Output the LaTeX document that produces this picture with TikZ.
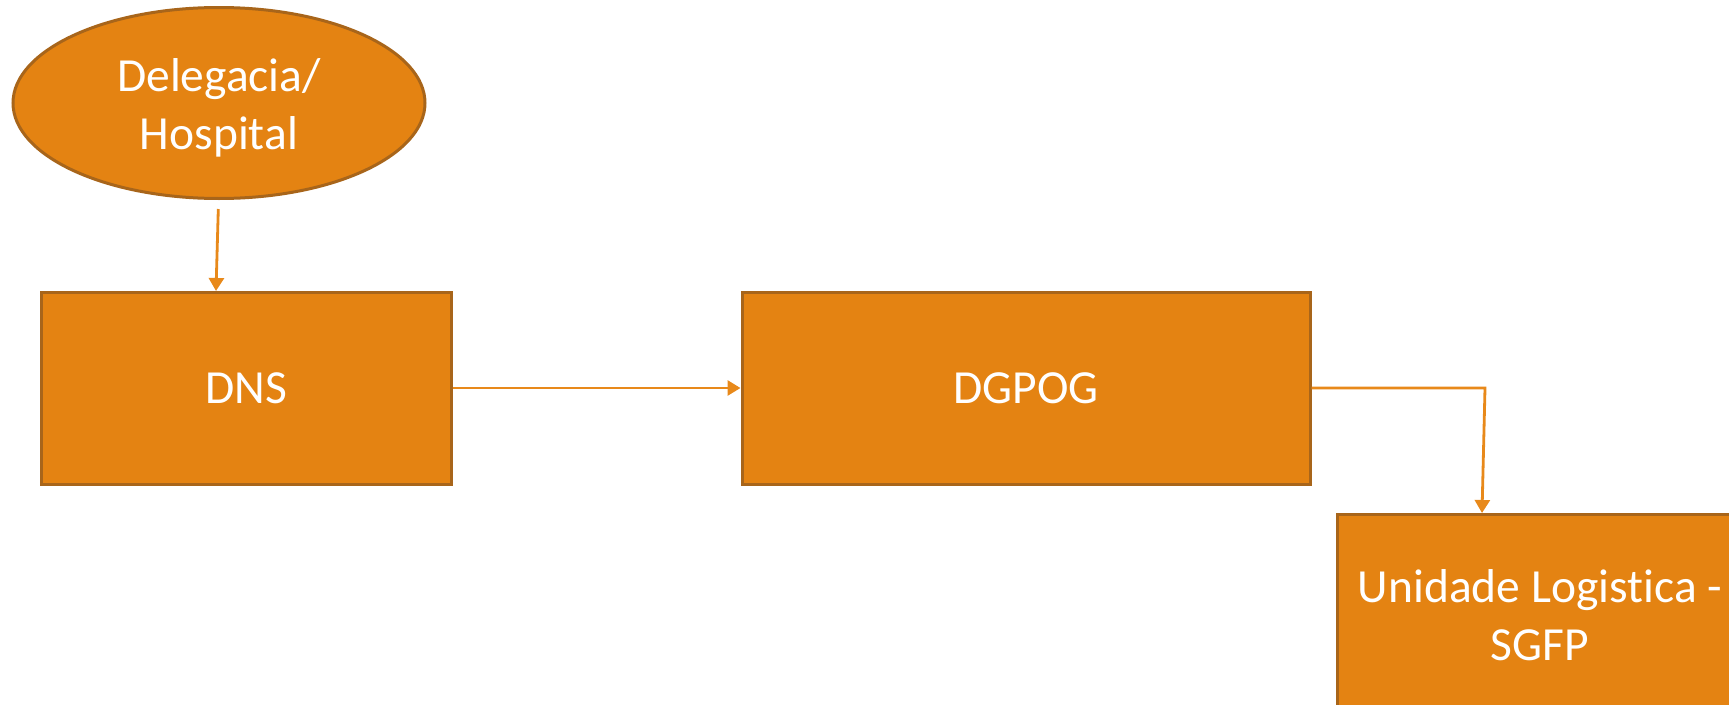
\documentclass[tikz,border=0pt]{standalone}
\usepackage{fontspec}
\setmainfont{Carlito}[Ligatures=NoCommon]
\usetikzlibrary{arrows.meta,shapes.geometric}
\definecolor{boxfill}{HTML}{E48312}
\definecolor{boxline}{HTML}{A8651A}
\definecolor{conn}{HTML}{E8891A}
\tikzset{
  txt/.style={text=white, align=center, inner sep=0pt, font=\fontsize{47.5}{58}\selectfont},
  box/.style={draw=boxline, line width=3pt, fill=boxfill, txt},
  oval/.style={box, ellipse},
  link/.style={draw=conn, line width=2.8pt, -{Triangle[width=15pt,length=13pt]}}
}
\begin{document}
\begin{tikzpicture}[x=1pt,y=-1pt]
\useasboundingbox (0,0) rectangle (1729,704);
\clip (0,0) rectangle (1729,704);
\node[oval, minimum width=412pt, minimum height=191pt,
  label={[txt, yshift=-5pt]center:Delegacia/\\Hospital}] (del) at (219,103) {};
\node[box, minimum width=410pt, minimum height=192pt] (dns) at (246,388) {DNS};
\node[box, minimum width=568pt, minimum height=192pt] (dgpog) at (1026,388) {DGPOG};
\node[box, minimum width=406pt, minimum height=192pt,
  label={[txt, yshift=-5pt]center:Unidade Logistica -\\SGFP}] (uls) at (1540,610) {};
\coordinate (a1) at (218.3,209);
\coordinate (a2) at (216,291);
\coordinate (b1) at (1485,388);
\coordinate (b2) at (1482,513);
\draw[link] (a1) -- (a2);
\draw[link] (dns.east) -- (dgpog.west);
\draw[link] (dgpog.east) -- (b1) -- (b2);
\end{tikzpicture}
\end{document}
